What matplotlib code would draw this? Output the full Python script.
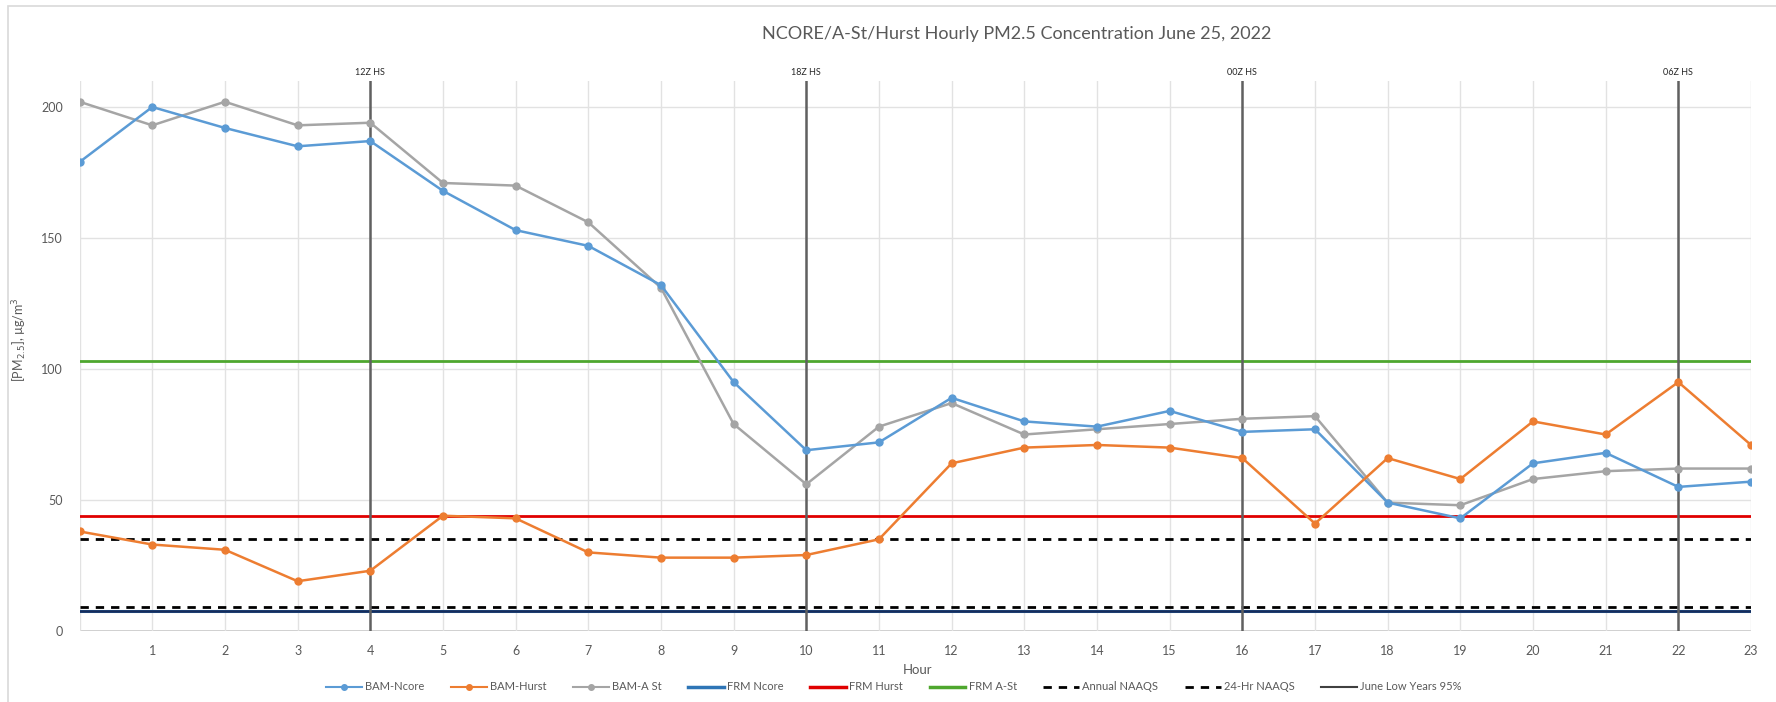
import numpy as np
import matplotlib.pyplot as plt
from matplotlib.lines import Line2D
from matplotlib.patches import Rectangle

plt.rcParams['font.family'] = ['Lato', 'DejaVu Sans']

hours = list(range(24))
hour_labels = [''] + [str(h) for h in range(1, 24)]

bam_ncore = [179, 200, 192, 185, 187, 168, 153, 147, 132, 95, 69, 72,
             89, 80, 78, 84, 76, 77, 49, 43, 64, 68, 55, 57]
bam_hurst = [38, 33, 31, 19, 23, 44, 43, 30, 28, 28, 29, 35,
             64, 70, 71, 70, 66, 41, 66, 58, 80, 75, 95, 71]
bam_ast = [202, 193, 202, 193, 194, 171, 170, 156, 131, 79, 56, 78,
           87, 75, 77, 79, 81, 82, 49, 48, 58, 61, 62, 62]

frm_ncore = 7.6
frm_hurst = 44
frm_ast = 103
annual_naaqs = 9
naaqs_24hr = 35
june_low_95 = 7.6

hs_hours = [4, 10, 16, 22]
hs_labels = ['12Z HS', '18Z HS', '00Z HS', '06Z HS']

fig = plt.figure(figsize=(17.76, 7.02), dpi=100)
ax = fig.add_axes([79.6 / 1776, 71 / 702, (1751 - 79.6) / 1776, (631 - 80.8) / 702])

# chart border
fig.patches.append(Rectangle((8 / 1776, -0.1), 1.2, 1 - 6 / 702 + 0.1,
                             transform=fig.transFigure, fill=False,
                             edgecolor='#d9d9d9', linewidth=1.2))

ax.set_xlim(0, 23)
ax.set_ylim(0, 210)
for s in ax.spines.values():
    s.set_visible(False)
ax.axhline(0, color='#c8c8c8', lw=1.2, zorder=1)
for y in [50, 100, 150, 200]:
    ax.axhline(y, color='#e2e2e2', lw=1.0, zorder=1)
for h in hours:
    ax.axvline(h, color='#e2e2e2', lw=1.0, zorder=1)

ax.set_yticks([0, 50, 100, 150, 200])
ax.set_xticks(hours)
ax.set_xticklabels(hour_labels)
ax.tick_params(length=0, labelsize=9, colors='#595959', pad=10)
ax.tick_params(axis='y', pad=12)

# reference levels
ax.axhline(frm_ast, color='#4ea72e', lw=2, zorder=3)
ax.axhline(frm_hurst, color='#e00000', lw=2, zorder=3)
ax.axhline(naaqs_24hr, color='black', lw=2, ls=(0, (3, 2.5)), zorder=3)
ax.axhline(frm_ncore, color='#2e75b6', lw=2.2, zorder=3)
ax.axhline(june_low_95, color='#13204a', lw=1.8, alpha=0.85, zorder=3)
ax.axhline(annual_naaqs, color='black', lw=2, ls=(0, (3, 2.5)), zorder=3)

# HS markers
for h, lab in zip(hs_hours, hs_labels):
    ax.axvline(h, color='#606060', lw=1.8, zorder=4)
    ax.text(h, 211.5, lab, ha='center', va='bottom', fontsize=6.5, color='#262626')

ax.plot(hours, bam_ast, color='#a5a5a5', lw=1.8, marker='o', ms=5, zorder=5)
ax.plot(hours, bam_ncore, color='#5b9bd5', lw=1.8, marker='o', ms=5, zorder=6)
ax.plot(hours, bam_hurst, color='#ed7d31', lw=1.8, marker='o', ms=5, zorder=6)

fig.text(1017 / 1776, 1 - 34 / 702, 'NCORE/A-St/Hurst Hourly PM2.5 Concentration June 25, 2022',
         ha='center', va='center', fontsize=13, color='#595959')
fig.text(20 / 1776, 1 - 340 / 702, '[PM$_{2.5}$], µg/m$^3$', rotation=90,
         ha='center', va='center', fontsize=9, color='#595959')
fig.text(917 / 1776, 1 - 670 / 702, 'Hour', ha='center', va='center',
         fontsize=9.5, color='#595959')

handles = [
    Line2D([], [], color='#5b9bd5', lw=1.5, marker='o', ms=4),
    Line2D([], [], color='#ed7d31', lw=1.5, marker='o', ms=4),
    Line2D([], [], color='#a5a5a5', lw=1.5, marker='o', ms=4),
    Line2D([], [], color='#2e75b6', lw=2.5),
    Line2D([], [], color='#e00000', lw=2.5),
    Line2D([], [], color='#4ea72e', lw=2.5),
    Line2D([], [], color='black', lw=2, ls=(0, (3, 2.5))),
    Line2D([], [], color='black', lw=2, ls=(0, (3, 2.5))),
    Line2D([], [], color='#404040', lw=1.5),
]
labels = ['BAM-Ncore', 'BAM-Hurst', 'BAM-A St', 'FRM Ncore', 'FRM Hurst',
          'FRM A-St', 'Annual NAAQS', '24-Hr NAAQS', 'June Low Years 95%']
leg = fig.legend(handles, labels, loc='center', ncol=9, frameon=False,
                 bbox_to_anchor=(894 / 1776, 1 - 687 / 702), fontsize=8,
                 handlelength=3.2, columnspacing=2.4, handletextpad=0.3)
for t in leg.get_texts():
    t.set_color('#595959')

fig.savefig('out.png', dpi=100)
